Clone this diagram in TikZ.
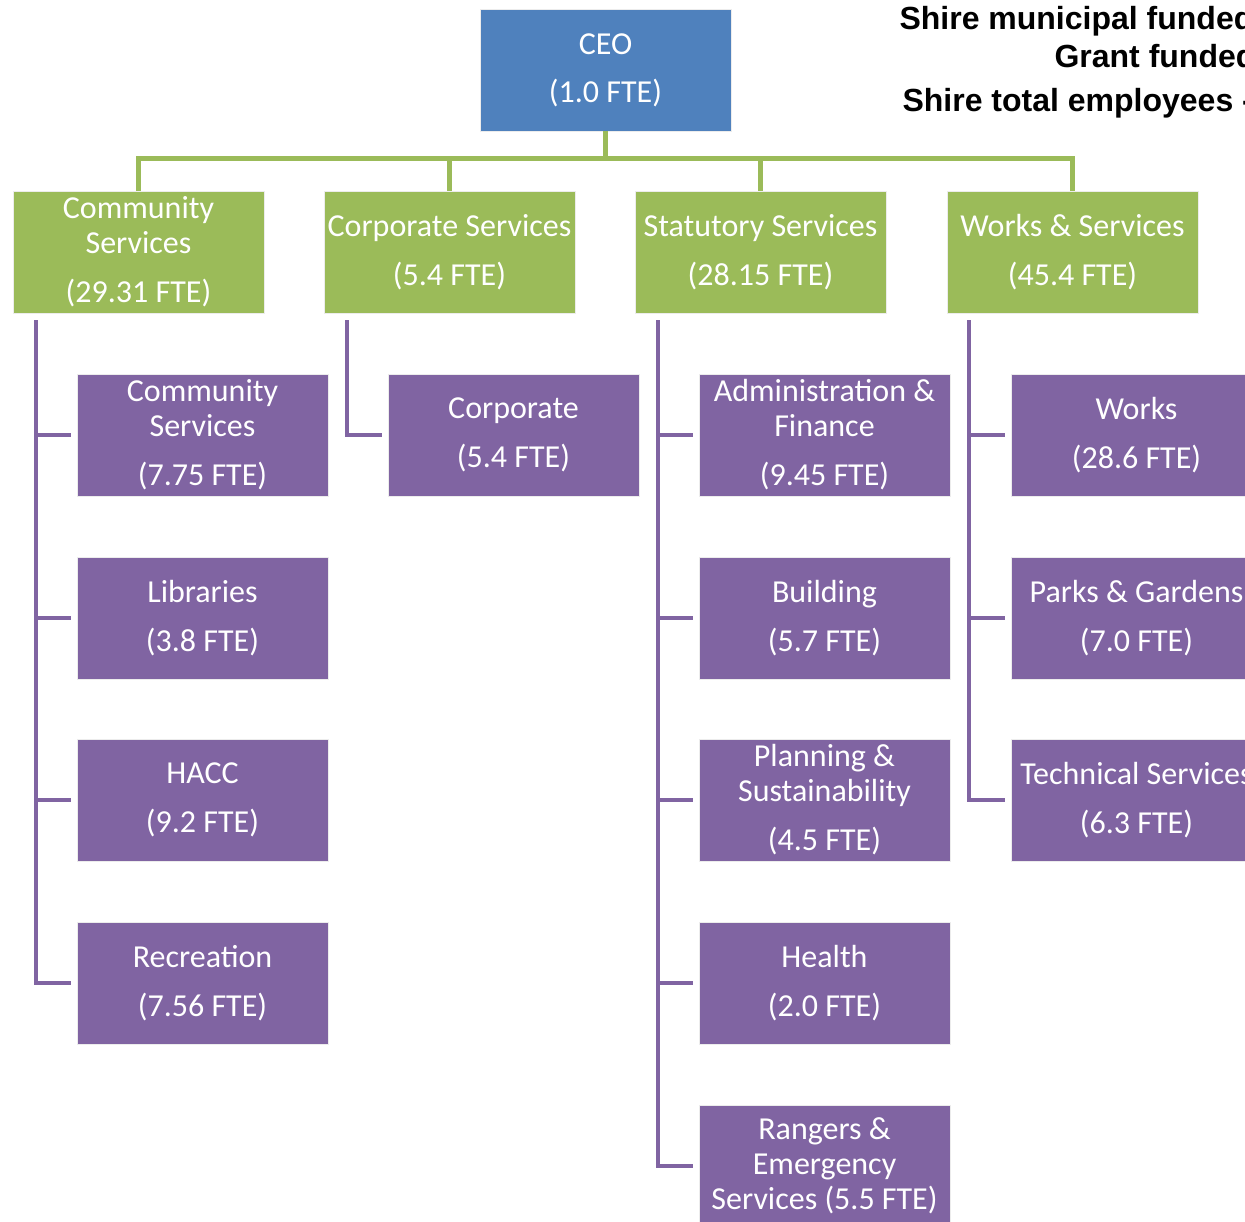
\documentclass[tikz,border=0pt]{standalone}
\usepackage{fontspec}
\setmainfont{Carlito}
\newfontfamily\headfont{Liberation Sans}
\definecolor{ceoblue}{HTML}{4F81BD}
\definecolor{deptgreen}{HTML}{9BBB59}
\definecolor{unitpurple}{HTML}{8064A2}

\begin{document}
\begin{tikzpicture}[x=1pt, y=-1pt,
    box/.style={minimum width=251pt, minimum height=122pt, inner sep=0pt, align=center,
        text=white, font=\fontsize{32}{35}\selectfont, draw=white!85!gray, line width=0.6pt},
    ceobox/.style={box, fill=ceoblue},
    deptbox/.style={box, fill=deptgreen},
    unitbox/.style={box, fill=unitpurple},
    greenline/.style={deptgreen, line width=5pt},
    purpleline/.style={unitpurple, line width=4pt},
    headline/.style={anchor=base west, font=\headfont\bfseries\fontsize{32}{32}\selectfont}]
    \useasboundingbox (0,0) rectangle (1245,1222);

    % Draw CEO
    \node[ceobox] (ceo) at (605.5,70) {CEO\\[13pt](1.0 FTE)};

    % Draw departments
    \node[deptbox] (comm) at (138.5,252) {Community\\Services\\[14pt](29.31 FTE)};
    \node[deptbox] (corp) at (449.5,252) {Corporate Services\\[14pt](5.4 FTE)};
    \node[deptbox] (stat) at (760.5,252) {Statutory Services\\[14pt](28.15 FTE)};
    \node[deptbox] (works) at (1072.5,252) {Works \& Services\\[14pt](45.4 FTE)};

    % Community Services units
    \node[unitbox] (commsvc) at (202.5,435) {Community\\Services\\[14pt](7.75 FTE)};
    \node[unitbox] (lib) at (202.5,618) {Libraries\\[14pt](3.8 FTE)};
    \node[unitbox] (hacc) at (202.5,800) {HACC\\[14pt](9.2 FTE)};
    \node[unitbox] (rec) at (202.5,983) {Recreation\\[14pt](7.56 FTE)};

    % Corporate Services units
    \node[unitbox] (corpu) at (513.5,435) {Corporate\\[14pt](5.4 FTE)};

    % Statutory Services units
    \node[unitbox] (admin) at (824.5,435) {Administration \&\\Finance\\[14pt](9.45 FTE)};
    \node[unitbox] (build) at (824.5,618) {Building\\[14pt](5.7 FTE)};
    \node[unitbox] (plan) at (824.5,800) {Planning \&\\Sustainability\\[14pt](4.5 FTE)};
    \node[unitbox] (health) at (824.5,983) {Health\\[14pt](2.0 FTE)};
    \node[unitbox] (rangers) at (824.5,1166) {Rangers \&\\Emergency\\Services (5.5 FTE)};

    % Works & Services units
    \node[unitbox] (worksu) at (1136.5,435) {Works\\[14pt](28.6 FTE)};
    \node[unitbox] (parks) at (1136.5,618) {Parks \& Gardens\\[14pt](7.0 FTE)};
    \node[unitbox] (tech) at (1136.5,800) {Technical Services\\[14pt](6.3 FTE)};

    % Green connectors
    \coordinate (bus) at (605.5,159);
    \draw[greenline] (ceo.south) -- (bus);
    \foreach \d in {comm, corp, stat, works}
        \draw[greenline] (bus) -| (\d.north);

    % Purple connectors
    \foreach \u in {commsvc, lib, hacc, rec}
        \draw[purpleline] ([xshift=23pt,yshift=-7pt]comm.south west) |- ([xshift=-6pt]\u.west);
    \draw[purpleline] ([xshift=23pt,yshift=-7pt]corp.south west) |- ([xshift=-6pt]corpu.west);
    \foreach \u in {admin, build, plan, health, rangers}
        \draw[purpleline] ([xshift=23pt,yshift=-7pt]stat.south west) |- ([xshift=-6pt]\u.west);
    \foreach \u in {worksu, parks, tech}
        \draw[purpleline] ([xshift=22pt,yshift=-7pt]works.south west) |- ([xshift=-6pt]\u.west);

    % Totals
    \node[headline] (fundmun) at (896,30) {Shire municipal funded};
    \node[headline] (fundgrant) at (1051,68) {Grant funded};
    \node[headline] (total) at (899,112) {Shire total employees -};
\end{tikzpicture}
\end{document}
